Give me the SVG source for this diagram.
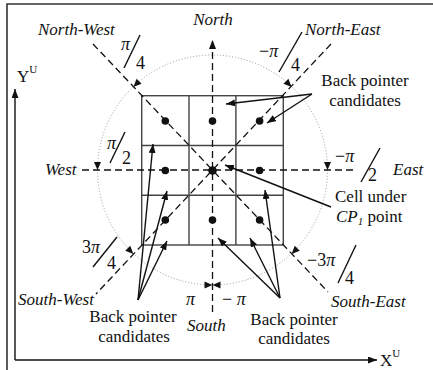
<svg xmlns="http://www.w3.org/2000/svg" xmlns:xlink="http://www.w3.org/1999/xlink" width="433" height="370" viewBox="0 0 433 370">
<style>
text{font-family:'Liberation Serif','Tinos','DejaVu Serif','Noto Serif',serif}
.t{font-size:17px;fill:#111}
.i{font-style:italic}
.m{font-size:18px;fill:#111}
.dash{stroke:#111;stroke-width:1.3;stroke-dasharray:7,4;fill:none}
.grid{stroke:#444;stroke-width:1.4;fill:none}
.arr{stroke:#111;stroke-width:1.4;fill:none;marker-end:url(#ah)}
.sl{stroke:#111;stroke-width:1.4}
.dot{fill:#111}
</style>
<defs>
<marker id="ah" markerUnits="userSpaceOnUse" markerWidth="10" markerHeight="8" refX="9" refY="3.5" orient="auto">
<path d="M0,0 L9,3.5 L0,7 Z" fill="#111" stroke="none"/>
</marker>
<path id="tri" d="M0,0 L-8,-3.5 L-8,3.5 Z" fill="#111"/>
</defs>
<rect width="433" height="370" fill="#fff"/>
<g id="frame"><path d="M7,375 V4 H440" fill="none" stroke="#333" stroke-width="1.6"/></g>
<g id="axes" font-family="Liberation Serif, serif">
<path d="M15,360 V89" class="arr"/>
<path d="M15,360 H377" class="arr"/>
<text class="t" x="17" y="82" font-size="18">Y<tspan font-size="11" dy="-9">U</tspan></text>
<text class="t" x="380" y="366" font-size="18">X<tspan font-size="11" dy="-9">U</tspan></text>
</g>
<g id="circle"><circle cx="212.5" cy="170" r="115" fill="none" stroke="#999" stroke-width="1" stroke-dasharray="1,2"/></g>
<g id="grid">
<rect x="141.7" y="95.7" width="141.6" height="149.3" class="grid"/>
<path d="M189,95.7 V245 M235.9,95.7 V245 M141.7,145.5 H283.3 M141.7,195.3 H283.3" class="grid"/>
</g>
<g id="dashed-lines">
<path d="M212.5,312 V40" class="dash" style="marker-end:url(#ah)"/>
<path d="M82,170 H353" class="dash"/>
<path d="M93,44 L328,292" class="dash"/>
<path d="M331,44 L96,294" class="dash"/>
</g>
<g id="dots">
<circle class="dot" cx="165.3" cy="121" r="3.8"/>
<circle class="dot" cx="212.5" cy="121" r="3.8"/>
<circle class="dot" cx="259.6" cy="121" r="3.8"/>
<circle class="dot" cx="165.3" cy="170.5" r="3.8"/>
<circle class="dot" cx="212.5" cy="170.5" r="4.3"/>
<circle class="dot" cx="259.6" cy="170.5" r="3.8"/>
<circle class="dot" cx="165.3" cy="220" r="3.8"/>
<circle class="dot" cx="212.5" cy="220" r="3.8"/>
<circle class="dot" cx="259.6" cy="220" r="3.8"/>
</g>
<g id="angle-arrows">
<use xlink:href="#tri" transform="translate(133.4,86.9) rotate(135)"/>
<use xlink:href="#tri" transform="translate(97.5,170) rotate(90)"/>
<use xlink:href="#tri" transform="translate(133.4,253.9) rotate(45)"/>
<use xlink:href="#tri" transform="translate(212.5,285) rotate(0)"/>
<use xlink:href="#tri" transform="translate(212.5,285) rotate(180)"/>
<use xlink:href="#tri" transform="translate(291.6,86.9) rotate(45)"/>
<use xlink:href="#tri" transform="translate(327.5,170) rotate(90)"/>
<use xlink:href="#tri" transform="translate(291.6,253.9) rotate(135)"/>
</g>
<g id="connectors">
<path class="arr" d="M312,94 L226,104"/>
<path class="arr" d="M312,94 L267,123"/>
<path class="arr" d="M331,207 L225,165"/>
<path class="arr" d="M138,300 L153,144"/>
<path class="arr" d="M138,300 L167,191"/>
<path class="arr" d="M138,300 L167,241"/>
<path class="arr" d="M280,298 L218,238"/>
<path class="arr" d="M280,298 L250,238"/>
<path class="arr" d="M280,298 L265,190"/>
</g>
<g id="direction-labels">
<text class="t i" x="213" y="25" text-anchor="middle">North</text>
<text class="t i" x="38" y="35">North-West</text>
<text class="t i" x="305" y="35">North-East</text>
<text class="t i" x="45" y="175">West</text>
<text class="t i" x="393" y="175">East</text>
<text class="t i" x="18" y="305">South-West</text>
<text class="t i" x="331" y="307">South-East</text>
<text class="t i" x="187" y="331">South</text>
</g>
<g id="angle-labels">
<text class="m i" x="121" y="50">π</text>
<line class="sl" x1="124" y1="68" x2="140" y2="35"/>
<text class="m" x="136" y="69">4</text>
<text class="m i" x="107" y="149">π</text>
<line class="sl" x1="110" y1="163" x2="125" y2="132"/>
<text class="m" x="122" y="164">2</text>
<text class="m" x="259" y="57">−<tspan class="i">π</tspan></text>
<line class="sl" x1="279" y1="72" x2="302" y2="32"/>
<text class="m" x="291" y="71">4</text>
<text class="m" x="335" y="162">−<tspan class="i">π</tspan></text>
<line class="sl" x1="361" y1="182" x2="380" y2="148"/>
<text class="m" x="368" y="181">2</text>
<text class="m" x="82" y="253">3<tspan class="i">π</tspan></text>
<line class="sl" x1="93" y1="267" x2="117" y2="237"/>
<text class="m" x="107" y="269">4</text>
<text class="m" x="307" y="266">−3<tspan class="i">π</tspan></text>
<line class="sl" x1="338" y1="283" x2="356" y2="245"/>
<text class="m" x="345" y="284">4</text>
<text class="m i" x="186" y="305">π</text>
<text class="m" x="222" y="305">− <tspan class="i">π</tspan></text>
</g>
<g id="label-top-right">
<text class="t" x="365" y="86" text-anchor="middle">Back pointer</text>
<text class="t" x="365" y="106" text-anchor="middle">candidates</text>
</g>
<g id="label-cell-under">
<text class="t" x="335" y="202">Cell under</text>
<text class="t" x="336" y="222"><tspan class="i">CP</tspan><tspan class="i" font-size="11" dy="3">1</tspan><tspan dy="-3"> point</tspan></text>
</g>
<g id="label-bottom-left">
<text class="t" x="133" y="322" text-anchor="middle">Back pointer</text>
<text class="t" x="134" y="342" text-anchor="middle">candidates</text>
</g>
<g id="label-bottom-right">
<text class="t" x="294" y="325" text-anchor="middle">Back pointer</text>
<text class="t" x="294" y="344" text-anchor="middle">candidates</text>
</g>
</svg>
